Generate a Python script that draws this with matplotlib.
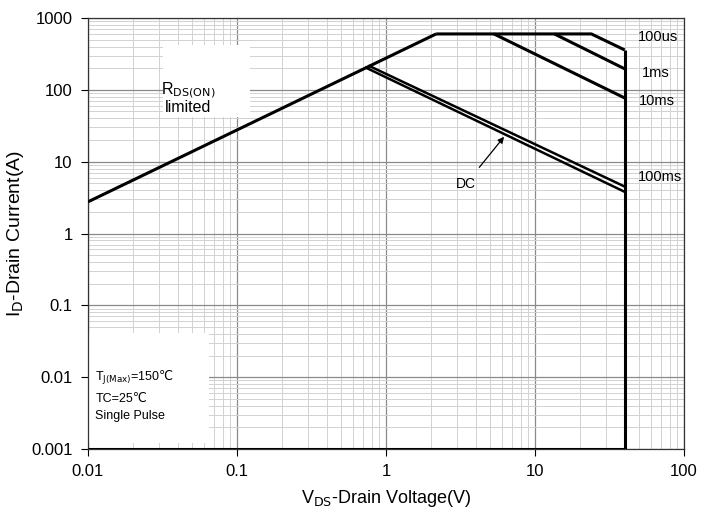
import matplotlib
matplotlib.use("Agg")
import matplotlib.pyplot as plt
from matplotlib.patches import Rectangle

plt.rcParams['font.family'] = ['Liberation Sans', 'DejaVu Sans']

# SOA boundary data (V, A)
rds_v = [0.01, 2.17]
rds_i = [2.76, 600]
us100_v = [2.17, 23.9, 40]
us100_i = [600, 600, 359]
ms1_v = [13.5, 40]
ms1_i = [600, 196]
ms10_v = [5.3, 40]
ms10_i = [600, 77]
ms100_v = [0.775, 40]
ms100_i = [214, 4.5]
dc_v = [0.735, 40]
dc_i = [203, 3.8]
edge_v = [40, 40, 0.01]
edge_i = [359, 0.001, 0.001]

curve_labels = ["100us", "1ms", "10ms", "100ms"]
label_x = [49, 52, 49.5, 49]
label_y = [545, 172, 70, 6.2]

fig = plt.figure(figsize=(7.08, 5.26), dpi=100)
ax = fig.add_axes([88 / 708, 1 - 449 / 526, (684 - 88) / 708, (449 - 18) / 526])
ax.set_xscale('log')
ax.set_yscale('log')
ax.set_xlim(0.01, 100)
ax.set_ylim(0.001, 1000)

ax.grid(True, which='major', color='#8a8a8a', lw=0.9)
ax.grid(True, which='minor', color='#d2d2d2', lw=0.7)
ax.set_axisbelow(True)

# white boxes behind the notes (they hide the grid in the reference)
ax.add_patch(Rectangle((0.032, 42), 0.09, 380, facecolor='white', edgecolor='none', zorder=1.5))
ax.add_patch(Rectangle((0.0101, 0.0012), 0.055, 0.04, facecolor='white', edgecolor='none', zorder=1.5))

kw = dict(color='black', lw=2.2, solid_capstyle='butt', zorder=3)
ax.plot(rds_v, rds_i, **kw)
ax.plot(us100_v, us100_i, **kw)
ax.plot(ms1_v, ms1_i, **kw)
ax.plot(ms10_v, ms10_i, **kw)
ax.plot(ms100_v, ms100_i, color='black', lw=1.8, zorder=3)
ax.plot(dc_v, dc_i, color='black', lw=1.8, zorder=3)
ax.plot(edge_v, edge_i, **kw)

for lab, x, y in zip(curve_labels, label_x, label_y):
    ax.text(x, y, lab, fontsize=10.5, ha='left', va='center', zorder=4)

ax.annotate("DC", xy=(6.2, 22.2), xytext=(3.45, 4.95), fontsize=10,
            ha='center', va='center', zorder=4,
            arrowprops=dict(arrowstyle='-|>', color='black', lw=0.9,
                            shrinkA=6, shrinkB=0, mutation_scale=9))

ax.text(0.047, 100, r"R$_{\mathrm{DS(ON)}}$", fontsize=11.5, ha='center', va='center', zorder=4)
ax.text(0.047, 57, "limited", fontsize=11.5, ha='center', va='center', zorder=4)

ax.text(0.0112, 0.0098, r"T$_{\mathrm{J(Max)}}$=150$℃$", fontsize=9, ha='left', va='center', zorder=4)
ax.text(0.0112, 0.0050, "TC=25℃", fontsize=9, ha='left', va='center', zorder=4)
ax.text(0.0112, 0.0029, "Single Pulse", fontsize=9, ha='left', va='center', zorder=4)

ax.set_xticks([0.01, 0.1, 1, 10, 100])
ax.set_xticklabels(["0.01", "0.1", "1", "10", "100"])
ax.set_yticks([0.001, 0.01, 0.1, 1, 10, 100, 1000])
ax.set_yticklabels(["0.001", "0.01", "0.1", "1", "10", "100", "1000"])
ax.tick_params(which='major', labelsize=12, length=5, width=0.8, pad=6)
ax.tick_params(which='minor', length=0)

for s in ax.spines.values():
    s.set_color('#333333')
    s.set_linewidth(0.9)

ax.set_xlabel(r"V$_{\mathrm{DS}}$-Drain Voltage(V)", fontsize=13, labelpad=6)
ax.set_ylabel(r"I$_{\mathrm{D}}$-Drain Current(A)", fontsize=14, labelpad=4)

fig.savefig("out.png", dpi=100)
